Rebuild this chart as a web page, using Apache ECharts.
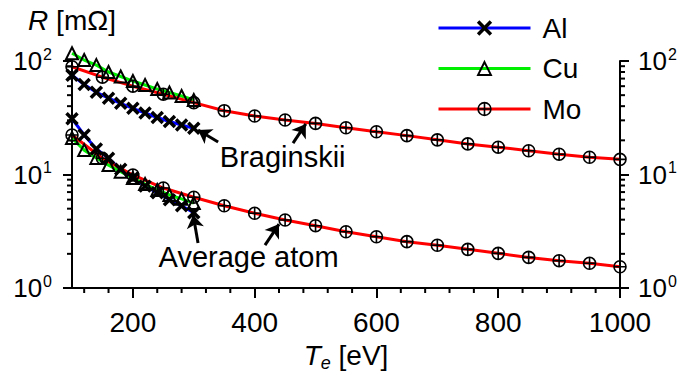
<!DOCTYPE html>
<html>
<head>
<meta charset="utf-8">
<script src="https://cdn.jsdelivr.net/npm/echarts@6/dist/echarts.min.js"></script>
<style>
  html, body { margin: 0; padding: 0; background: #fff; }
  #chart { width: 696px; height: 378px; }
</style>
</head>
<body>
<div id="chart"></div>
<script>
// temperatures [eV]
const tempsAlCu = [100, 120, 140, 160, 180, 200, 220, 240, 260, 280, 300];
const tempsMo = [100, 150, 200, 250, 300, 350, 400, 450, 500, 550, 600, 650, 700, 750, 800, 850, 900, 950, 1000];

// resistance [mOhm]
const alBraginskii = [75, 62, 53, 47, 42.4, 38.3, 34.8, 31.8, 29.3, 27.3, 25.5];
const alAverageAtom = [31, 22.3, 16.8, 13.9, 11.1, 9.3, 7.9, 6.9, 6.0, 5.3, 4.6];
const cuBraginskii = [117, 102, 92, 80, 73, 66.6, 61.5, 56.6, 52.8, 49.2, 45.3];
const cuAverageAtom = [21.0, 16.4, 14.0, 12.1, 10.6, 9.3, 8.25, 7.3, 6.6, 6.1, 5.6];
const moBraginskii = [89, 72, 60, 51, 43, 36.5, 32.8, 30.2, 28.2, 25.8, 23.8, 22.0, 20.2, 18.6, 17.4, 16.2, 15.1, 14.2, 13.6];
const moAverageAtom = [22.3, 13.9, 9.9, 7.6, 6.3, 5.3, 4.55, 3.97, 3.54, 3.13, 2.83, 2.56, 2.38, 2.19, 2.02, 1.86, 1.74, 1.65, 1.54];

// ticks
const xMajorTicks = [200, 400, 600, 800, 1000];
const xMinorTicks = [120, 160, 240, 280, 320, 360, 440, 480, 520, 560, 640, 680, 720, 760, 840, 880, 920, 960];
const yMinorTicks = [2, 3, 4, 5, 6, 7, 8, 9, 20, 30, 40, 50, 60, 70, 80, 90];

// annotations (data coordinates)
const noteTexts = ['Braginskii', 'Average atom'];
const notePlaces = [[446, 14.3], [390, 1.875]];
const arrowFrom = [[340, 19.3], [463, 18.9], [307, 2.49], [417, 2.39]];
const arrowTo = [[307, 24.7], [484, 27.9], [299, 4.4], [440, 3.66]];

const FONT = 'Liberation Sans, Arial, sans-serif';
const X_PATH = 'path://M0,0L10,10M10,0L0,10';
const OPLUS_PATH = 'path://M0,5A5,5 0 1 1 10,5A5,5 0 1 1 0,5ZM5,0L5,10M0,5L10,5';

const pair = (xs, ys) => xs.map((x, i) => [x, ys[i]]);

const styles = {
  Al: { color: '#0000ff', symbol: X_PATH, size: 11, bw: 3.5 },
  Cu: { color: '#00ee00', symbol: 'triangle', size: 12, bw: 2 },
  Mo: { color: '#ff0000', symbol: OPLUS_PATH, size: 12, bw: 1.6 }
};

function lineSeries(name, xs, ys, extra) {
  const s = styles[name];
  return Object.assign({
    name,
    type: 'line',
    data: pair(xs, ys),
    clip: false,
    symbol: s.symbol,
    symbolSize: s.size,
    symbolKeepAspect: true,
    showAllSymbol: true,
    lineStyle: { color: s.color, width: 3 },
    itemStyle: { color: 'rgba(0,0,0,0)', borderColor: '#000', borderWidth: s.bw },
    emphasis: { disabled: true }
  }, extra || {});
}

const axisLabelRich = {
  b: { fontSize: 26, fontFamily: FONT, color: '#000' },
  s: { fontSize: 16, fontFamily: FONT, color: '#000', padding: [0, 0, 14, 1] }
};
const powLabel = v => '{b|10}{s|' + Math.round(Math.log10(v)) + '}';

function yAxisOf(position, withName) {
  const ax = {
    type: 'log',
    logBase: 10,
    min: 1,
    max: 100,
    position,
    axisLine: { show: true, onZero: false, lineStyle: { color: '#000', width: 2 } },
    axisTick: { show: true, length: 9, lineStyle: { color: '#000', width: 2 } },
    axisLabel: { margin: position === 'left' ? 20 : 18, formatter: powLabel, rich: axisLabelRich },
    splitLine: { show: false },
    minorTick: { show: false }
  };
  if (withName) {
    ax.name = '{i|R}{n| [mΩ]}';
    ax.nameLocation = 'end';
    ax.nameGap = 27;
    ax.nameTextStyle = {
      rich: {
        i: { fontSize: 28, fontStyle: 'italic', fontFamily: FONT, color: '#000' },
        n: { fontSize: 28, fontFamily: FONT, color: '#000' }
      }
    };
  }
  return ax;
}

const tickStyle = { stroke: '#000', lineWidth: 2 };

const chart = echarts.init(document.getElementById('chart'), null, { renderer: 'svg' });
chart.setOption({
  animation: false,
  backgroundColor: '#fff',
  grid: { left: 72, right: 76, top: 61, bottom: 90, outerBoundsMode: 'none' },
  legend: {
    data: ['Al', 'Cu', 'Mo'].map(n => ({
      name: n,
      itemStyle: { borderColor: '#000', borderWidth: styles[n].bw },
      lineStyle: { color: styles[n].color, width: 3 }
    })),
    orient: 'vertical',
    left: 432,
    top: 9,
    padding: 5,
    itemWidth: 92,
    itemHeight: 16,
    itemGap: 12.5,
    selectedMode: false,
    textStyle: { fontSize: 28, fontFamily: FONT, color: '#000', padding: [0, 0, 0, 7] }
  },
  xAxis: {
    type: 'value',
    min: 100,
    max: 1000,
    axisLine: { show: true, onZero: false, lineStyle: { color: '#000', width: 2 } },
    axisTick: { show: true, length: 10, customValues: xMajorTicks, lineStyle: { color: '#000', width: 2 } },
    axisLabel: {
      customValues: xMajorTicks,
      formatter: v => String(v),
      margin: 20,
      fontSize: 28,
      fontFamily: FONT,
      color: '#000'
    },
    splitLine: { show: false },
    name: '{i|T}{sub|e}{n| [eV]}',
    nameLocation: 'middle',
    nameGap: 50,
    nameTextStyle: {
      rich: {
        i: { fontSize: 28, fontStyle: 'italic', fontFamily: FONT, color: '#000' },
        sub: { fontSize: 18, fontStyle: 'italic', fontFamily: FONT, color: '#000', padding: [16, 0, 0, 0] },
        n: { fontSize: 28, fontFamily: FONT, color: '#000' }
      }
    }
  },
  yAxis: [yAxisOf('left', true), yAxisOf('right', false)],
  series: [
    lineSeries('Al', tempsAlCu, alBraginskii),
    lineSeries('Al', tempsAlCu, alAverageAtom),
    lineSeries('Cu', tempsAlCu, cuBraginskii),
    lineSeries('Cu', tempsAlCu, cuAverageAtom),
    lineSeries('Mo', tempsMo, moAverageAtom),
    lineSeries('Mo', tempsMo, moBraginskii, {
      markLine: {
        silent: true,
        symbol: ['none', 'arrow'],
        symbolSize: 13,
        label: { show: false },
        lineStyle: { color: '#000', width: 3, type: 'solid' },
        data: arrowFrom.map((a, i) => [{ coord: a }, { coord: arrowTo[i] }])
      },
      markPoint: {
        silent: true,
        symbol: 'circle',
        symbolSize: 0,
        label: {
          show: true,
          position: 'inside',
          formatter: p => p.name,
          fontSize: 29,
          fontFamily: FONT,
          color: '#000'
        },
        data: noteTexts.map((t, i) => ({ name: t, coord: notePlaces[i] }))
      }
    }),
    {
      // log-style minor ticks on both vertical axes
      type: 'custom',
      silent: true,
      clip: false,
      data: yMinorTicks.map(v => [1000, v]),
      renderItem(params, api) {
        const cs = params.coordSys;
        const y = api.coord([api.value(0), api.value(1)])[1];
        return {
          type: 'group',
          children: [
            { type: 'line', shape: { x1: cs.x - 5, y1: y, x2: cs.x, y2: y }, style: tickStyle },
            { type: 'line', shape: { x1: cs.x + cs.width, y1: y, x2: cs.x + cs.width + 5, y2: y }, style: tickStyle }
          ]
        };
      }
    },
    {
      // minor ticks on the temperature axis
      type: 'custom',
      silent: true,
      clip: false,
      data: xMinorTicks.map(t => [t, 1]),
      renderItem(params, api) {
        const cs = params.coordSys;
        const x = api.coord([api.value(0), api.value(1)])[0];
        const yb = cs.y + cs.height;
        return { type: 'line', shape: { x1: x, y1: yb, x2: x, y2: yb + 5 }, style: tickStyle };
      }
    }
  ]
});
</script>
</body>
</html>
